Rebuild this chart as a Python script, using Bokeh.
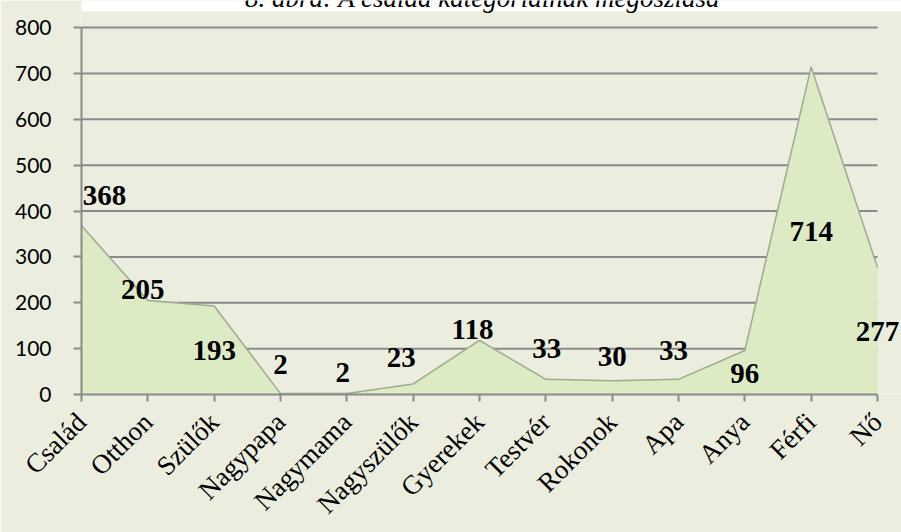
from bokeh.plotting import figure
from bokeh.models import Range1d, FixedTicker, ColumnDataSource, Label, LabelSet, BoxAnnotation
from bokeh.embed import file_html
from bokeh.resources import INLINE

# ---- data ----
categories = ["Család", "Otthon", "Szülők", "Nagypapa", "Nagymama", "Nagyszülők",
              "Gyerekek", "Testvér", "Rokonok", "Apa", "Anya", "Férfi", "Nő"]
counts = [368, 205, 193, 2, 2, 23, 118, 33, 30, 33, 96, 714, 277]
y_ticks = [0, 100, 200, 300, 400, 500, 600, 700, 800]
title_text = "8. ábra: A család kategóriáinak megoszlása"

# label placement (screen px offsets from each point, up = positive; style only)
label_dx = [23, -5, 0, 0, -4, -12, -7, 1, 0, -5, 0, 0, 0]
label_up = [30, 11, -45, 29, 21, 26, 11, 31, 24, 29, -23, -165, -64]

BG = "#EBEEDF"
FILL = "#DCEBC4"
EDGE = "#9EAA8E"
GRID = "#8A8A8A"

n = len(categories)
xs = list(range(n))
y_max = y_ticks[-1]

# frame spans to the canvas top/right so labels/title are not clipped;
# the visible axis/grid extent is limited to 0..n-1 and 0..y_max
p = figure(width=901, height=532, output_backend="svg", toolbar_location=None,
           x_range=Range1d(0, (n - 1) + 24 / 66.333),
           y_range=Range1d(0, y_max * 394 / 367),
           min_border_left=81, min_border_right=0, min_border_top=0, min_border_bottom=138)
p.background_fill_color = BG
p.border_fill_color = BG
p.outline_line_color = None

# white page strip at the top (above the chart box)
p.add_layout(BoxAnnotation(bottom=394 - 11, top=394, bottom_units="screen", top_units="screen",
                           fill_color="#FFFFFF", fill_alpha=1, line_color=None, level="underlay"))

# grid lines (behind the area)
p.xgrid.visible = False
p.ygrid.visible = False
p.segment(x0=[0] * (len(y_ticks) - 1), x1=[n - 1] * (len(y_ticks) - 1),
          y0=y_ticks[1:], y1=y_ticks[1:], line_color=GRID, line_width=2)

# area
p.varea(x=xs, y1=[0] * n, y2=counts, fill_color=FILL)
p.line(x=xs, y=counts, line_color=EDGE, line_width=1.5)

# y axis
p.yaxis.ticker = FixedTicker(ticks=y_ticks)
p.yaxis.bounds = (0, y_max)
p.yaxis.axis_line_color = GRID
p.yaxis.axis_line_width = 2
p.yaxis.major_tick_line_color = GRID
p.yaxis.major_tick_line_width = 2
p.yaxis.major_tick_out = 8
p.yaxis.major_tick_in = 0
p.yaxis.minor_tick_line_color = None
p.yaxis.major_label_standoff = 22
p.yaxis.major_label_text_font = "Lato"
p.yaxis.major_label_text_font_size = "21px"
p.yaxis.major_label_text_color = "#000000"

# x axis
p.xaxis.ticker = FixedTicker(ticks=xs)
p.xaxis.bounds = (0, n - 1)
p.xaxis.major_label_overrides = {i: c for i, c in enumerate(categories)}
p.xaxis.major_label_orientation = 0.785398
p.xaxis.axis_line_color = GRID
p.xaxis.axis_line_width = 2
p.xaxis.major_tick_line_color = GRID
p.xaxis.major_tick_line_width = 2
p.xaxis.major_tick_out = 7
p.xaxis.major_tick_in = 0
p.xaxis.minor_tick_line_color = None
p.xaxis.major_label_standoff = 16
p.xaxis.major_label_text_font = "Liberation Serif"
p.xaxis.major_label_text_font_size = "27px"
p.xaxis.major_label_text_color = "#000000"

# data labels
src = ColumnDataSource(dict(x=xs, y=counts, t=[str(c) for c in counts], dx=label_dx, dy=label_up))
p.add_layout(LabelSet(x="x", y="y", text="t", source=src, x_offset="dx", y_offset="dy",
                      text_align="center", text_baseline="middle",
                      text_font="Liberation Serif", text_font_style="bold",
                      text_font_size="29px", text_color="#000000"))

# title (cut off at the top as in the source)
p.add_layout(Label(x=6.05, y=397, x_units="data", y_units="screen", text=title_text,
                   text_align="center", text_baseline="alphabetic",
                   text_font="Liberation Serif", text_font_style="italic",
                   text_font_size="27px", text_color="#000000"))

open("out.html", "w").write(file_html(p, INLINE))
